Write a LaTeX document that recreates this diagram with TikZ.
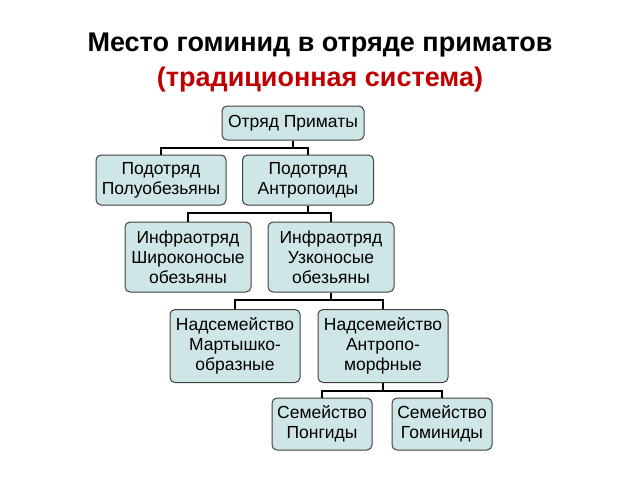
\documentclass[tikz,border=0pt]{standalone}
\usepackage{fontspec}
\setmainfont{Liberation Sans}
\begin{document}
\begin{tikzpicture}[x=1pt,y=-1pt,
  bx/.style={draw=black!75,line width=1pt,fill=boxc,rounded corners=5pt,align=center,font=\fontsize{17.5}{20}\selectfont,inner sep=0pt},
  ln/.style={line width=2pt}]
\definecolor{boxc}{HTML}{CFE6E6}
\definecolor{tred}{HTML}{C00000}
\useasboundingbox (0,0) rectangle (640,480);
\node[font=\bfseries\fontsize{27}{30}\selectfont] (t1) at (320,45) {Место гоминид в отряде приматов};
\node[font=\bfseries\fontsize{27}{30}\selectfont,text=tred] (t2) at (320,80) {(традиционная система)};
\node[bx,minimum width=142,minimum height=34] (a) at (293,123) {Отряд Приматы};
\node[bx,minimum width=130,minimum height=50] (b) at (161,180) {Подотряд\\Полуобезьяны};
\node[bx,minimum width=131,minimum height=50] (c) at (308,180) {Подотряд\\Антропоиды};
\node[bx,minimum width=126,minimum height=70] (d) at (188,257) {Инфраотряд\\Широконосые\\обезьяны};
\node[bx,minimum width=126,minimum height=70] (e) at (331,257) {Инфраотряд\\Узконосые\\обезьяны};
\node[bx,minimum width=130,minimum height=73] (f) at (235,346) {Надсемейство\\Мартышко-\\образные};
\node[bx,minimum width=130,minimum height=73] (g) at (383,346) {Надсемейство\\Антропо-\\морфные};
\node[bx,minimum width=100,minimum height=52] (h) at (322,424) {Семейство\\Понгиды};
\node[bx,minimum width=100,minimum height=52] (i) at (442,424) {Семейство\\Гоминиды};
\draw[ln] (a.south) |- (161,148) -- (b.north);
\draw[ln] (a.south) |- (308,148) -- (c.north);
\draw[ln] (c.south) |- (188,213) -- (d.north);
\draw[ln] (c.south) |- (331,213) -- (e.north);
\draw[ln] (e.south) |- (235,300) -- (f.north);
\draw[ln] (e.south) |- (383,300) -- (g.north);
\draw[ln] (g.south) |- (322,391) -- (h.north);
\draw[ln] (g.south) |- (442,391) -- (i.north);
\end{tikzpicture}
\end{document}
